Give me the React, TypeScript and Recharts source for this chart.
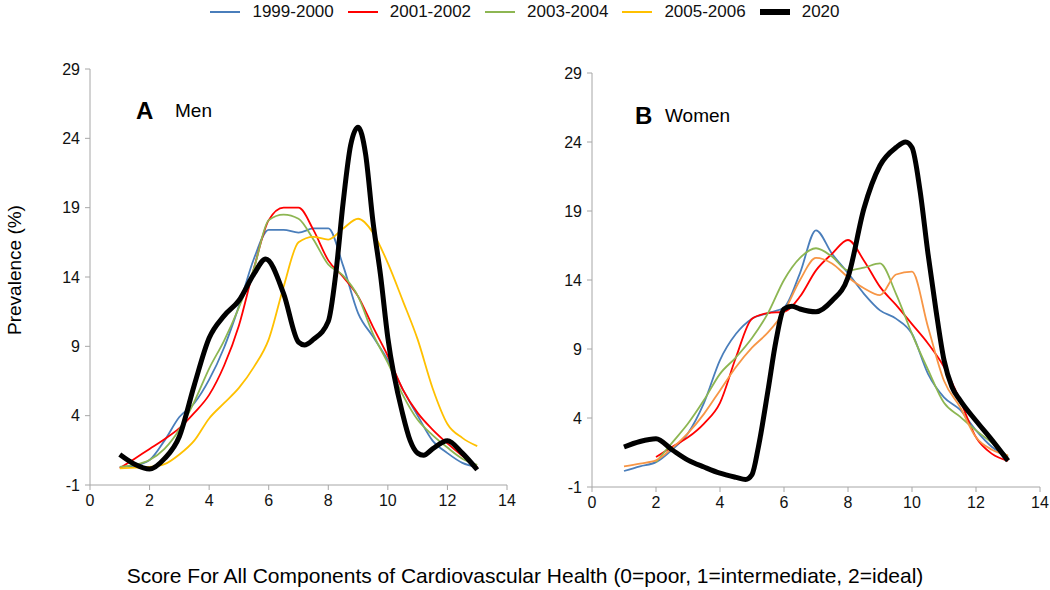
import { LineChart, Line, XAxis, YAxis } from 'recharts'

// ── data ────────────────────────────────────────────────────────────────────
const SCORES = [1, 1.5, 2, 2.5, 3, 3.5, 4, 4.5, 5, 5.5, 6, 6.5, 7, 7.5, 8, 8.5, 9, 9.5, 10, 10.5, 11, 11.5, 12, 12.5, 13]
const X_TICKS = [0, 2, 4, 6, 8, 10, 12, 14]
const Y_TICKS = [-1, 4, 9, 14, 19, 24, 29]

// Panel A — men
const MEN_1999 = [0.3, 0.4, 0.8, 2.2, 3.9, 4.9, 6.6, 8.9, 11.9, 15.3, 17.4, 17.4, 17.2, 17.5, 17.5, 14.8, 11.4, 9.7, 8.0, 5.9, 4.0, 2.2, 1.3, 0.6, 0.3]
const MEN_2001 = [0.2, 0.9, 1.6, 2.3, 3.1, 4.2, 5.5, 7.6, 10.5, 14.6, 18.1, 19.0, 19.0, 17.4, 15.2, 14.0, 12.6, 10.4, 8.3, 5.9, 4.2, 3.0, 2.0, 1.1, 0.3]
const MEN_2003 = [0.3, 0.45, 0.8, 1.6, 3.0, 5.0, 7.4, 9.4, 11.8, 14.6, 18.1, 18.5, 18.2, 16.7, 14.9, 14.1, 12.6, 9.9, 7.8, 5.5, 3.7, 2.6, 1.7, 0.9, 0.45]
const MEN_2005 = [0.2, 0.25, 0.3, 0.5, 1.2, 2.2, 3.8, 4.9, 6.0, 7.5, 9.5, 13.3, 16.5, 16.9, 16.7, 17.5, 18.2, 17.2, 15.0, 12.3, 9.5, 6.0, 3.4, 2.4, 1.8]
const MEN_2020_X = [1, 1.5, 2, 2.5, 3, 3.5, 4, 4.5, 5, 5.5, 5.9, 6.5, 7, 7.2, 7.5, 8, 8.25, 8.5, 8.75, 9, 9.25, 9.5, 9.75, 10, 10.5, 10.75, 11, 11.2, 11.5, 12, 12.5, 13]
const MEN_2020 = [1.2, 0.5, 0.15, 0.9, 2.5, 6.2, 9.6, 11.2, 12.3, 14.2, 15.3, 12.8, 9.3, 9.1, 9.5, 10.8, 14.2, 19.4, 23.5, 24.8, 22.9, 18.0, 14.2, 9.6, 4.1, 2.2, 1.3, 1.15, 1.6, 2.2, 1.3, 0.1]

// Panel B — women (2001-2002 and 2003-2004 start at score 2)
const WOMEN_1999 = [0.16, 0.5, 0.8, 1.7, 2.9, 5.1, 8.2, 10.1, 11.2, 11.6, 12.0, 14.5, 17.6, 15.9, 14.5, 13.0, 11.8, 11.2, 10.1, 7.2, 5.5, 4.6, 3.1, 1.9, 1.2]
const WOMEN_2001 = [null, null, 1.17, 1.9, 2.6, 3.6, 5.1, 8.4, 11.2, 11.6, 11.7, 12.8, 14.7, 15.9, 16.9, 15.4, 13.5, 12.2, 10.8, 9.4, 7.7, 5.3, 2.6, 1.4, 0.9]
const WOMEN_2003 = [null, null, 0.8, 2.2, 3.6, 5.3, 7.2, 8.4, 9.8, 11.6, 14.0, 15.6, 16.3, 15.7, 14.7, 14.9, 15.2, 13.0, 10.1, 7.5, 5.1, 4.1, 3.1, 2.2, 1.2]
const WOMEN_2005 = [0.5, 0.7, 0.93, 1.8, 2.9, 4.3, 6.0, 7.7, 9.1, 10.2, 11.7, 14.0, 15.6, 15.2, 14.2, 13.4, 12.9, 14.4, 14.6, 10.6, 6.7, 4.8, 2.6, 1.7, 1.3]
const WOMEN_2020_X = [1, 1.5, 2, 2.5, 3, 3.5, 4, 4.5, 4.8, 5, 5.2, 5.5, 5.75, 6, 6.25, 6.5, 7, 7.5, 8, 8.5, 9, 9.5, 9.8, 10, 10.25, 10.5, 10.75, 11, 11.25, 11.5, 12, 12.5, 13]
const WOMEN_2020 = [1.9, 2.3, 2.5, 1.7, 0.95, 0.45, 0.0, -0.3, -0.45, -0.1, 1.9, 6.0, 9.6, 11.9, 12.1, 11.9, 11.7, 12.5, 14.2, 19.2, 22.3, 23.6, 24.0, 23.6, 20.5, 15.9, 11.8, 8.2, 6.25, 5.3, 3.8, 2.4, 0.9]

const SERIES_NAMES = ['1999-2000', '2001-2002', '2003-2004', '2005-2006', '2020']
const SERIES_COLORS = ['#4A7EBB', '#FF0000', '#8DB652', '#FFC000', '#000000']
const WOMEN_2005_COLOR = '#F79646' // the women panel draws 2005-2006 in orange

const FONT = '"Liberation Sans", Arial, sans-serif'
const AXIS_GREY = '#A6A6A6'

type Pt = { x: number; y: number | null }
const toPts = (xs: number[], ys: (number | null)[]): Pt[] => xs.map((x, i) => ({ x, y: ys[i] }))

function Panel({ series, colors, width, height, marginRight }: {
  series: Pt[][]
  colors: string[]
  width: number
  height: number
  marginRight: number
}) {
  return (
    <LineChart width={width} height={height} margin={{ top: 19, right: marginRight, left: 0, bottom: 0 }}>
      <XAxis dataKey="x" type="number" domain={[0, 14]} ticks={X_TICKS} height={35}
             axisLine={{ stroke: AXIS_GREY }} tickLine={{ stroke: AXIS_GREY }} tickSize={5} tickMargin={5}
             tick={{ fill: '#111', fontSize: 16, fontFamily: FONT }} allowDuplicatedCategory={false} />
      <YAxis type="number" domain={[-1, 29]} ticks={Y_TICKS} width={90}
             axisLine={{ stroke: AXIS_GREY }} tickLine={{ stroke: AXIS_GREY }} tickSize={5} tickMargin={5}
             tick={{ fill: '#111', fontSize: 16, fontFamily: FONT }} />
      {series.map((pts, i) => (
        <Line key={i} data={pts} dataKey="y" type="monotone" stroke={colors[i]}
              strokeWidth={i === 4 ? 5 : 1.8} dot={false} activeDot={false}
              isAnimationActive={false} />
      ))}
    </LineChart>
  )
}

function TopLegend() {
  return (
    <div style={{ position: 'absolute', top: 0, left: 0, width: 1050, display: 'flex', justifyContent: 'center', gap: 14, fontSize: 17, fontFamily: FONT, color: '#111' }}>
      {SERIES_NAMES.map((name, i) => (
        <div key={name} style={{ display: 'flex', alignItems: 'center', gap: 12, height: 24 }}>
          <svg width={30} height={10}>
            <line x1={0} y1={5} x2={30} y2={5} stroke={SERIES_COLORS[i]} strokeWidth={i === 4 ? 6 : 2} />
          </svg>
          <span>{name}</span>
        </div>
      ))}
    </div>
  )
}

export default function App() {
  const men = [
    toPts(SCORES, MEN_1999), toPts(SCORES, MEN_2001), toPts(SCORES, MEN_2003),
    toPts(SCORES, MEN_2005), toPts(MEN_2020_X, MEN_2020),
  ]
  const women = [
    toPts(SCORES, WOMEN_1999), toPts(SCORES, WOMEN_2001), toPts(SCORES, WOMEN_2003),
    toPts(SCORES, WOMEN_2005), toPts(WOMEN_2020_X, WOMEN_2020),
  ]
  const womenColors = SERIES_COLORS.map((c, i) => (i === 3 ? WOMEN_2005_COLOR : c))

  return (
    <div style={{ position: 'absolute', left: 0, top: 0, width: 1050, height: 590, background: '#fff', fontFamily: FONT }}>
      <TopLegend />

      <div style={{ position: 'absolute', left: 0, top: 50 }}>
        <Panel series={men} colors={SERIES_COLORS} width={530} height={470} marginRight={23} />
      </div>
      <div style={{ position: 'absolute', left: 502, top: 54 }}>
        <Panel series={women} colors={womenColors} width={548} height={468} marginRight={10} />
      </div>

      <div style={{ position: 'absolute', left: 136, top: 97, fontSize: 24, fontWeight: 'bold' }}>A</div>
      <div style={{ position: 'absolute', left: 175, top: 100, fontSize: 19 }}>Men</div>
      <div style={{ position: 'absolute', left: 635, top: 102, fontSize: 24, fontWeight: 'bold' }}>B</div>
      <div style={{ position: 'absolute', left: 665, top: 105, fontSize: 19 }}>Women</div>

      <div style={{ position: 'absolute', left: 15, top: 270, transform: 'translate(-50%, -50%) rotate(-90deg)', fontSize: 19, whiteSpace: 'nowrap' }}>
        Prevalence (%)
      </div>
      <div style={{ position: 'absolute', left: 0, width: 1050, top: 564, textAlign: 'center', fontSize: 21 }}>
        Score For All Components of Cardiovascular Health (0=poor, 1=intermediate, 2=ideal)
      </div>
    </div>
  )
}
